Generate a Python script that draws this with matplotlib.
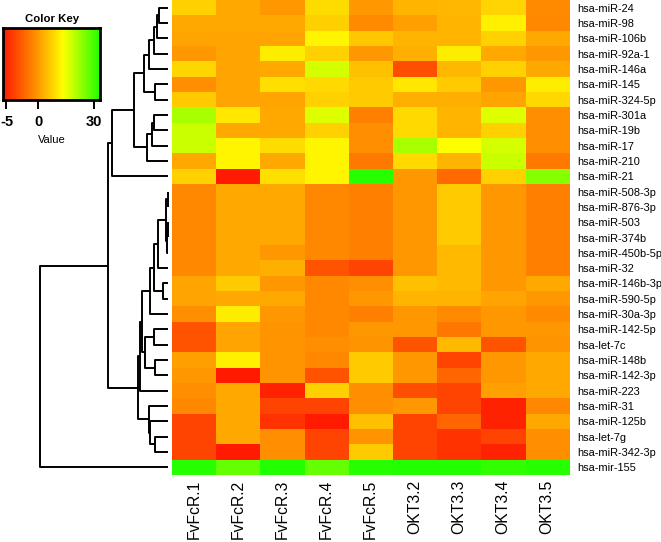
import numpy as np
import matplotlib
matplotlib.use("Agg")
import matplotlib.pyplot as plt
from matplotlib.colors import LinearSegmentedColormap, FuncNorm

plt.rcParams['font.family'] = ['Liberation Sans', 'DejaVu Sans']

# ---------------- data ----------------
samples = ["FvFcR.1", "FvFcR.2", "FvFcR.3", "FvFcR.4", "FvFcR.5",
           "OKT3.2", "OKT3.3", "OKT3.4", "OKT3.5"]

mirnas = ["hsa-miR-24", "hsa-miR-98", "hsa-miR-106b", "hsa-miR-92a-1", "hsa-miR-146a",
          "hsa-miR-145", "hsa-miR-324-5p", "hsa-miR-301a", "hsa-miR-19b", "hsa-miR-17",
          "hsa-miR-210", "hsa-miR-21", "hsa-miR-508-3p", "hsa-miR-876-3p", "hsa-miR-503",
          "hsa-miR-374b", "hsa-miR-450b-5p", "hsa-miR-32", "hsa-miR-146b-3p", "hsa-miR-590-5p",
          "hsa-miR-30a-3p", "hsa-miR-142-5p", "hsa-let-7c", "hsa-miR-148b", "hsa-miR-142-3p",
          "hsa-miR-223", "hsa-miR-31", "hsa-miR-125b", "hsa-let-7g", "hsa-miR-342-3p",
          "hsa-mir-155"]

values = np.array([
    [7.6, 2.3, 0.0, 9.0, 0.0, 3.6, 4.1, 8.0, -0.6],
    [2.3, 2.3, 2.3, 7.3, -0.6, 0.9, 3.6, 11.6, -0.7],
    [1.6, 1.6, 1.6, 12.2, 6.2, 3.6, 3.6, 7.6, 2.3],
    [0.0, 1.6, 11.3, 7.6, 0.0, 3.0, 11.3, 2.3, 0.0],
    [8.2, 1.6, 2.3, 17.4, 5.2, -3.2, 4.1, 7.6, 2.3],
    [-0.4, 1.6, 9.4, 8.6, 6.8, 10.5, 6.8, 0.0, 11.3],
    [6.8, 1.6, 1.6, 7.6, 6.8, 3.0, 3.0, 1.6, 8.4],
    [21.2, 10.5, 2.3, 16.6, -1.1, 8.6, 3.6, 16.6, -0.4],
    [18.2, 2.3, 2.3, 7.6, -0.4, 8.6, 3.6, 7.6, -0.4],
    [18.2, 12.2, 9.0, 12.2, -0.4, 21.2, 13.5, 17.4, -0.4],
    [2.3, 12.2, 2.3, 12.2, -1.4, 8.6, 3.6, 18.2, -1.4],
    [7.6, -5.5, 9.4, 12.2, 33.0, 0.0, -2.0, 7.6, 24.3],
    [-0.7, 2.3, 2.3, -0.7, -1.1, 0.0, 6.8, 0.0, -1.1],
    [-0.7, 2.3, 2.3, -0.7, -1.1, 0.0, 6.8, 0.0, -1.1],
    [-0.7, 2.3, 2.3, -0.7, -1.1, 0.0, 6.8, 0.0, -1.1],
    [-0.7, 2.3, 2.3, -0.7, -1.1, 0.0, 6.8, 0.0, -1.1],
    [-0.7, 2.3, 0.0, -0.7, -1.1, 0.0, 4.5, 0.0, -1.1],
    [-0.7, 2.3, 3.0, -2.95, -3.7, 0.0, 4.5, 0.0, -1.1],
    [1.6, 6.8, 0.0, -0.7, -0.4, 5.2, 4.5, 0.0, 2.3],
    [1.6, 2.3, 2.3, -0.7, 0.0, 3.6, 3.6, 1.6, 0.0],
    [-0.4, 11.3, 0.0, -0.7, -1.1, 0.0, -0.6, 0.0, -0.6],
    [-2.95, 1.6, -0.2, -0.7, 0.0, 0.0, -1.5, 0.0, 0.0],
    [-2.95, 1.6, -0.2, -0.4, -0.2, -2.95, 4.5, -2.95, -0.2],
    [0.9, 11.6, -0.2, -0.7, 6.8, 0.0, -3.7, 0.0, 2.3],
    [0.0, -5.5, -0.2, -2.95, 6.8, 0.0, -2.2, 0.0, 2.3],
    [-0.4, 2.3, -5.1, 7.3, -0.4, -3.2, -3.7, 0.9, 2.3],
    [-0.7, 2.3, -3.7, -3.7, -0.4, 0.0, -3.7, -5.1, -0.7],
    [-3.7, 2.3, -4.4, -5.5, 5.2, -3.7, -2.2, -5.1, 2.3],
    [-3.7, 2.3, -0.4, -3.7, -0.2, -3.7, -4.4, -3.7, -0.4],
    [-3.7, -5.5, -0.4, -3.7, 6.8, -3.7, -4.4, -5.1, -0.4],
    [33.0, 27.4, 33.5, 27.4, 33.0, 33.5, 33.5, 32.0, 33.0],
])

key_ticks = [-5, 0, 30]

# row dendrogram merges: (name, child_a, child_b, height); ints are leaf rows
merges = [
    ("t1", 0, 1, 0.87), ("t2", "t1", 2, 1.13), ("t3", "t2", 3, 1.37),
    ("t4", "t3", 4, 1.87), ("t5", 5, 6, 1.30), ("t6", "t4", "t5", 2.37),
    ("t7", 7, 8, 1.40), ("t8", "t7", 9, 1.63), ("t9", "t8", 10, 2.13),
    ("t10", "t6", "t9", 3.37), ("T", "t10", 11, 5.63),
    ("n1", 12, 13, 0.05), ("n2", 14, 15, 0.05), ("n3", "n2", 16, 0.15),
    ("n4", "n1", "n3", 0.20), ("n5", "n4", 17, 1.00), ("n6", 18, 19, 0.50),
    ("n7", "n5", "n6", 1.40), ("n8", "n7", 20, 1.80), ("n9", 21, 22, 1.37),
    ("n10", 23, 24, 1.30), ("n11", "n9", "n10", 2.30), ("n12", "n8", "n11", 2.60),
    ("n13", "n12", 25, 2.80), ("n14", 28, 29, 1.30), ("n15", 27, "n14", 1.80),
    ("n16", 26, "n15", 1.87), ("L", "n13", "n16", 3.00),
    ("A", "T", "L", 6.03), ("root", "A", 30, 12.8),
]

# ---------------- colours ----------------
cmap = LinearSegmentedColormap.from_list(
    "key", [(0.0, "#FF1A00"), (0.362, "#FF9900"), (0.62, "#FFFF00"), (1.0, "#22FF00")])
vmin, vmax = -5.5, 33.5
_fx = [vmin, 0.0, vmax]
_fy = [0.0, 0.362, 1.0]
norm = FuncNorm((lambda v: np.interp(v, _fx, _fy), lambda f: np.interp(f, _fy, _fx)),
                vmin=vmin, vmax=vmax)

# ---------------- layout ----------------
W, H = 661, 542
fig = plt.figure(figsize=(W / 100, H / 100), dpi=100)


def box(x0, y0, x1, y1):
    return [x0 / W, 1 - y1 / H, (x1 - x0) / W, (y1 - y0) / H]


# heatmap
ax = fig.add_axes(box(171.7, 0, 569, 475))
nr, nc = values.shape
ax.imshow(values, cmap=cmap, norm=norm, aspect="auto", interpolation="nearest",
          extent=(-0.5, nc - 0.5, nr - 0.5, -0.5))
ax.set_xlim(-0.5, nc - 0.5)
ax.set_ylim(nr - 0.5, -0.5)
for s in ax.spines.values():
    s.set_visible(False)
ax.yaxis.tick_right()
ax.set_yticks(range(nr))
ax.set_yticklabels(mirnas, fontsize=7.9)
ax.set_xticks(range(nc))
ax.set_xticklabels(samples, rotation=90, fontsize=11.3)
ax.tick_params(axis="y", length=0, pad=5.8)
ax.tick_params(axis="x", length=0, pad=3.5)

# dendrogram
dax = fig.add_axes(box(40, 0, 168, 475))
dax.set_ylim(nr - 0.5, -0.5)
dax.set_xlim(12.8, 0)
dax.axis("off")
pos = {}
for i in range(nr):
    pos[i] = (float(i), 0.0)
for name, a, b, h in merges:
    ya, ha = pos[a]
    yb, hb = pos[b]
    kw = dict(color="black", lw=1.4, clip_on=False, solid_capstyle="butt")
    dax.plot([ha, h, h, hb], [ya, ya, yb, yb], **kw)
    pos[name] = ((ya + yb) / 2, h)

# color key
kax = fig.add_axes(box(3.3, 28, 100, 100))
grad = np.linspace(0, 1, 256)[None, :]
kax.imshow(grad, cmap=cmap, aspect="auto", extent=(0, 1, 0, 1), interpolation="bilinear")
kax.set_xlim(0, 1)
kax.set_ylim(0, 1)
for s in kax.spines.values():
    s.set_linewidth(2.0)
kax.set_yticks([])
kax.set_xticks([float(norm(t)) for t in key_ticks])
kax.set_xticklabels([str(t) for t in key_ticks], fontsize=10.5, fontweight="bold")
kax.tick_params(axis="x", length=6.5, width=1.4, pad=4.5)
kax.set_xlabel("Value", fontsize=8, labelpad=4)
kax.set_title("Color Key", fontsize=8.2, fontweight="bold", pad=4)

fig.savefig("out.png", dpi=100)
